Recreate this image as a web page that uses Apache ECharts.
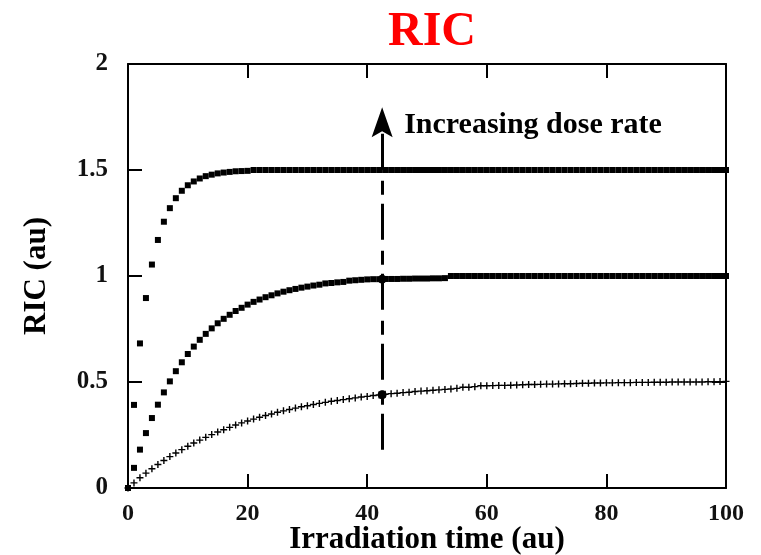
<!DOCTYPE html>
<html>
<head>
<meta charset="utf-8">
<script src="https://cdn.jsdelivr.net/npm/echarts@6/dist/echarts.min.js"></script>
<style>
  html, body { margin: 0; padding: 0; background: #fff; }
  #chart { width: 761px; height: 555px; }
</style>
</head>
<body>
<div id="chart"></div>
<script>
// ---- data ----
const TIME = [0,1,2,3,4,5,6,7,8,9,10,11,12,13,14,15,16,17,18,19,20,
  21,22,23,24,25,26,27,28,29,30,31,32,33,34,35,36,37,38,39,40,
  41,42,43,44,45,46,47,48,49,50,51,52,53,54,55,56,57,58,59,60,
  61,62,63,64,65,66,67,68,69,70,71,72,73,74,75,76,77,78,79,80,
  81,82,83,84,85,86,87,88,89,90,91,92,93,94,95,96,97,98,99,100];

// highest dose rate (saturates at 1.5)
const RIC_HIGH = [0,0.392,0.682,0.896,1.054,1.170,1.256,1.320,1.367,1.402,1.428,
  1.446,1.460,1.471,1.478,1.484,1.488,1.491,1.494,1.495,1.496,
  1.5,1.5,1.5,1.5,1.5,1.5,1.5,1.5,1.5,1.5,
  1.5,1.5,1.5,1.5,1.5,1.5,1.5,1.5,1.5,1.5,
  1.5,1.5,1.5,1.5,1.5,1.5,1.5,1.5,1.5,1.5,
  1.5,1.5,1.5,1.5,1.5,1.5,1.5,1.5,1.5,1.5,
  1.5,1.5,1.5,1.5,1.5,1.5,1.5,1.5,1.5,1.5,
  1.5,1.5,1.5,1.5,1.5,1.5,1.5,1.5,1.5,1.5,
  1.5,1.5,1.5,1.5,1.5,1.5,1.5,1.5,1.5,1.5,
  1.5,1.5,1.5,1.5,1.5,1.5,1.5,1.5,1.5,1.5];

// medium dose rate (saturates at 1.0)
const RIC_MID = [0,0.095,0.181,0.259,0.330,0.393,0.451,0.503,0.551,0.593,0.632,
  0.667,0.699,0.727,0.753,0.777,0.798,0.817,0.835,0.850,0.865,
  0.878,0.889,0.900,0.909,0.918,0.926,0.933,0.939,0.945,0.950,
  0.955,0.959,0.965,0.967,0.970,0.972,0.978,0.980,0.982,0.984,
  0.985,0.985,0.986,0.986,0.986,0.987,0.987,0.988,0.988,0.988,
  0.989,0.989,0.990,1.0,1.0,1.0,1.0,1.0,1.0,1.0,
  1.0,1.0,1.0,1.0,1.0,1.0,1.0,1.0,1.0,1.0,
  1.0,1.0,1.0,1.0,1.0,1.0,1.0,1.0,1.0,1.0,
  1.0,1.0,1.0,1.0,1.0,1.0,1.0,1.0,1.0,1.0,
  1.0,1.0,1.0,1.0,1.0,1.0,1.0,1.0,1.0,1.0];

// lowest dose rate (saturates at 0.5)
const RIC_LOW = [0,0.024,0.048,0.070,0.091,0.111,0.130,0.148,0.165,0.181,0.197,
  0.212,0.226,0.239,0.252,0.264,0.275,0.286,0.297,0.307,0.316,
  0.325,0.334,0.342,0.349,0.357,0.364,0.370,0.377,0.383,0.388,
  0.394,0.399,0.404,0.409,0.413,0.417,0.421,0.425,0.429,0.432,
  0.436,0.439,0.442,0.445,0.447,0.450,0.452,0.455,0.457,0.459,
  0.461,0.463,0.465,0.467,0.470,0.475,0.475,0.478,0.482,0.482,
  0.483,0.484,0.484,0.485,0.486,0.487,0.488,0.488,0.489,0.490,
  0.490,0.491,0.492,0.492,0.493,0.494,0.494,0.495,0.495,0.496,
  0.496,0.497,0.497,0.497,0.498,0.498,0.498,0.499,0.499,0.499,
  0.500,0.500,0.500,0.500,0.500,0.500,0.501,0.501,0.502,0.503];

// highlighted points on the arrow
const MARK_TIME = [42.5, 42.5];
const MARK_RIC = [0.44, 0.985];

// arrow (dose-rate direction) and its label
const ARROW_TIME = 42.5;
const ARROW_FROM = 0.18;
const ARROW_TO = 1.725;
const ARROW_TEXT = 'Increasing dose rate';
const ARROW_TEXT_RIC = 1.71;

const X_TICKS = [0, 20, 40, 60, 80, 100];
const Y_TICKS = [0, 0.5, 1, 1.5, 2];

const TITLE = 'RIC';
const X_NAME = 'Irradiation time (au)';
const Y_NAME = 'RIC (au)';

// ---- chart ----
const FONT = "'Liberation Serif', 'Times New Roman', serif";
const pairs = (xs, ys) => xs.map((x, i) => [x, ys[i]]);
const PLUS = 'path://M4,0H6V4H10V6H6V10H4V6H0V4H4Z';
const ARROW_HEAD = 'path://M10,0L20,30L10,24L0,30Z';

const chart = echarts.init(document.getElementById('chart'), null, { renderer: 'canvas' });

const axisCommon = {
  type: 'value',
  axisLine: { show: true, onZero: false, lineStyle: { color: '#000', width: 2 } },
  axisTick: { show: true, inside: true, length: 14, lineStyle: { color: '#000', width: 2 } },
  splitLine: { show: false }
};

chart.setOption({
  animation: false,
  backgroundColor: '#fff',
  title: {
    text: TITLE,
    left: 427, textAlign: 'center',
    top: 4,
    textStyle: { color: '#ff0000', fontFamily: FONT, fontWeight: 'bold', fontSize: 48 }
  },
  grid: { left: 128, right: 35, top: 64, bottom: 67, containLabel: false, outerBoundsMode: 'none' },
  xAxis: [
    Object.assign({}, axisCommon, {
      position: 'bottom',
      min: X_TICKS[0], max: X_TICKS[X_TICKS.length - 1], interval: X_TICKS[1] - X_TICKS[0],
      name: X_NAME, nameLocation: 'middle', nameGap: 36, nameMoveOverlap: false,
      nameTextStyle: { fontFamily: FONT, fontWeight: 'bold', fontSize: 31, color: '#000' },
      axisLabel: { margin: 14, fontFamily: FONT, fontWeight: 'bold', fontSize: 24, color: '#111' }
    }),
    Object.assign({}, axisCommon, {
      position: 'top',
      min: X_TICKS[0], max: X_TICKS[X_TICKS.length - 1], interval: X_TICKS[1] - X_TICKS[0],
      axisLabel: { show: false }
    })
  ],
  yAxis: [
    Object.assign({}, axisCommon, {
      position: 'left',
      min: Y_TICKS[0], max: Y_TICKS[Y_TICKS.length - 1], interval: Y_TICKS[1] - Y_TICKS[0],
      name: Y_NAME, nameLocation: 'middle', nameGap: 76,
      nameTextStyle: { fontFamily: FONT, fontWeight: 'bold', fontSize: 31, color: '#000' },
      axisLabel: { margin: 20, fontFamily: FONT, fontWeight: 'bold', fontSize: 25, color: '#111' }
    }),
    Object.assign({}, axisCommon, {
      position: 'right',
      min: Y_TICKS[0], max: Y_TICKS[Y_TICKS.length - 1], interval: Y_TICKS[1] - Y_TICKS[0],
      axisLabel: { show: false }
    })
  ],
  series: [
    {
      name: 'low', type: 'scatter', data: pairs(TIME, RIC_LOW),
      symbol: PLUS, symbolSize: 7, itemStyle: { color: '#000', opacity: 1 }, silent: true
    },
    {
      name: 'mid', type: 'scatter', data: pairs(TIME, RIC_MID),
      symbol: 'rect', symbolSize: 6, itemStyle: { color: '#000', opacity: 1 }, silent: true
    },
    {
      name: 'high', type: 'scatter', data: pairs(TIME, RIC_HIGH),
      symbol: 'rect', symbolSize: 6, itemStyle: { color: '#000', opacity: 1 }, silent: true
    },
    {
      name: 'marks', type: 'scatter', data: pairs(MARK_TIME, MARK_RIC),
      symbol: 'circle', symbolSize: 9, itemStyle: { color: '#000', opacity: 1 }, silent: true, z: 5,
      markLine: {
        silent: true,
        symbol: ['none', ARROW_HEAD],
        symbolSize: 24,
        label: { show: false },
        itemStyle: { color: '#000', opacity: 1 },
        lineStyle: { color: '#000', width: 3, opacity: 1, type: [36, 9, 14, 11] },
        data: [[{ coord: [ARROW_TIME, ARROW_FROM] }, { coord: [ARROW_TIME, ARROW_TO], symbolSize: [21, 30] }]]
      }
    },
    {
      name: 'arrowText', type: 'scatter', data: [[ARROW_TIME, ARROW_TEXT_RIC]],
      symbolSize: 0, silent: true, itemStyle: { opacity: 1 },
      label: {
        show: true, position: 'right', distance: 22,
        formatter: ARROW_TEXT,
        fontFamily: FONT, fontWeight: 'bold', fontSize: 30, color: '#000', opacity: 1
      }
    }
  ]
});
</script>
</body>
</html>
